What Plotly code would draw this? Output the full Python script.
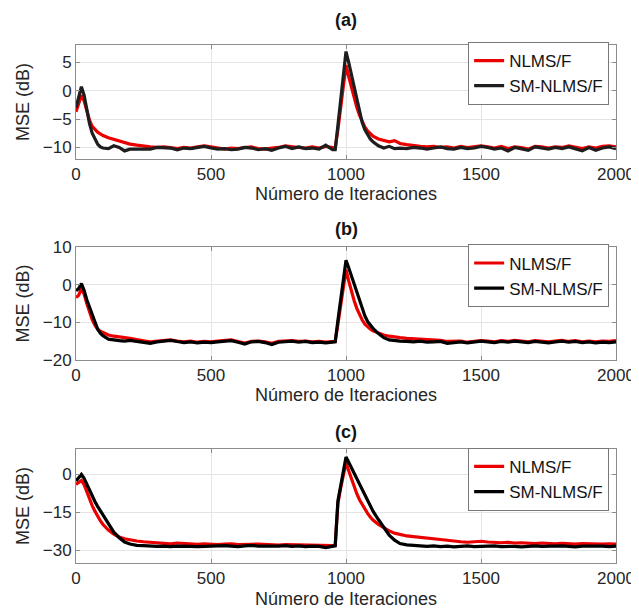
import plotly.graph_objects as go

# ---------------- data ----------------
# iteration sample positions
iters = (list(range(0, 101, 10)) + list(range(120, 201, 20)) + list(range(225, 951, 25))
         + list(range(960, 1101, 10)) + list(range(1120, 1201, 20)) + list(range(1225, 2001, 25)))

nlms_a = [
    -3.7, -2.2, -0.8, -1.8, -3.5, -5.2, -6.3, -6.9, -7.3, -7.6, -7.9,
    -8.3, -8.6, -8.9, -9.2, -9.4,
    -9.6, -9.8, -9.9, -10.0, -9.9, -10.0, -10.2, -10.0, -10.1, -9.9,
    -9.7, -9.9, -10.1, -10.3, -10.1, -10.2, -10.0, -9.9, -10.2, -10.3,
    -10.1, -10.0, -9.7, -9.9, -10.0, -10.1, -9.9, -10.1, -9.8, -10.0,
    -10.1, -6.9, -3.4, 0.5, 4.5, 2.5, 0.6, -1.2, -2.9, -4.3, -5.5, -6.4, -7.1, -7.6, -8.0,
    -8.5, -8.8, -9.0, -8.8, -9.3,
    -9.5, -9.7, -9.8, -9.9, -9.8, -10.0, -9.9, -10.1, -9.8, -10.0,
    -9.9, -9.7, -9.9, -10.1, -9.8, -10.2, -9.9, -10.0, -10.3, -9.8,
    -9.9, -10.1, -9.9, -10.0, -9.7, -10.0, -10.2, -9.9, -10.1, -9.8,
    -9.7, -9.9,
]
sm_a = [
    -3.0, -1.0, 0.7, -0.8, -3.5, -5.8, -7.5, -8.6, -9.4, -9.9, -10.1,
    -10.2, -9.7, -10.0, -10.6, -10.3,
    -10.3, -10.2, -10.3, -10.0, -10.0, -10.1, -10.4, -10.1, -10.2, -10.0,
    -9.8, -10.1, -10.3, -10.2, -10.4, -10.3, -10.0, -10.1, -10.4, -10.2,
    -10.5, -10.1, -9.8, -10.2, -9.9, -10.2, -10.1, -10.3, -9.6, -10.4,
    -10.4, -6.1, -1.8, 2.6, 6.9, 5.0, 2.8, 0.5, -1.6, -3.8, -5.6, -6.9, -7.8, -8.5, -9.0,
    -9.7, -10.1, -9.8, -10.2, -10.1,
    -10.2, -10.0, -10.1, -10.3, -10.1, -9.9, -10.2, -10.3, -10.0, -10.2,
    -10.1, -9.8, -10.0, -10.3, -10.1, -10.6, -10.0, -10.2, -10.5, -9.9,
    -10.1, -10.3, -10.0, -10.2, -9.9, -10.2, -10.6, -10.0, -10.5, -10.1,
    -9.9, -10.2,
]

nlms_b = [
    -3.4, -2.8, -1.0, -2.5, -5.0, -7.3, -9.3, -10.8, -11.8, -12.4, -12.8,
    -13.4, -13.7, -14.0, -14.1, -14.3,
    -14.5, -14.9, -15.2, -15.0, -14.9, -14.7, -15.0, -15.2, -15.0, -15.3,
    -15.1, -15.2, -15.0, -14.8, -14.7, -15.1, -15.5, -15.1, -15.0, -15.2,
    -15.6, -15.1, -14.9, -14.9, -15.1, -15.0, -15.2, -15.1, -15.3, -15.2,
    -15.1, -10.5, -5.8, -0.8, 4.0, 1.0, -1.8, -4.2, -6.3, -8.0, -9.4, -10.5, -11.3, -11.8, -12.3,
    -12.9, -13.4, -13.7, -14.0, -14.1,
    -14.3, -14.4, -14.5, -14.7, -14.6, -14.8, -15.1, -15.0, -15.0, -15.3,
    -15.1, -14.9, -15.0, -15.2, -14.9, -15.1, -14.8, -15.0, -15.2, -14.9,
    -15.0, -15.2, -15.0, -14.8, -15.1, -14.9, -15.2, -15.0, -15.2, -15.0,
    -15.1, -14.9,
]
sm_b = [
    -1.6, -1.0, 0.3, -1.5, -4.0, -6.0, -8.0, -10.0, -11.8, -12.9, -13.6,
    -14.5, -14.8, -14.9, -15.0, -14.8,
    -15.1, -15.3, -15.6, -15.2, -15.0, -14.8, -15.1, -15.4, -15.2, -15.5,
    -15.3, -15.4, -15.2, -15.0, -14.9, -15.3, -15.8, -15.2, -15.1, -15.4,
    -15.9, -15.3, -15.1, -15.0, -15.3, -15.1, -15.4, -15.3, -15.5, -15.4,
    -15.2, -9.5, -4.0, 1.5, 6.5, 4.5, 2.3, 0.0, -2.2, -4.4, -6.5, -8.3, -9.8, -10.8, -11.6,
    -13.0, -14.1, -14.7, -14.9, -15.0,
    -15.1, -15.2, -15.0, -15.3, -15.2, -15.1, -15.6, -15.4, -15.2, -15.5,
    -15.3, -15.0, -15.2, -15.4, -15.1, -15.3, -15.0, -15.2, -15.4, -15.1,
    -15.3, -15.5, -15.2, -15.0, -15.3, -15.1, -15.4, -15.2, -15.5, -15.3,
    -15.4, -15.2,
]

nlms_c = [
    -3.9, -3.0, -2.4, -4.0, -7.0, -9.8, -12.3, -14.5, -16.5, -18.3, -19.8,
    -22.0, -23.6, -24.7, -25.4, -25.9,
    -26.3, -26.6, -26.8, -27.0, -27.2, -27.4, -27.1, -27.3, -27.5, -27.6,
    -27.4, -27.6, -27.7, -27.5, -27.4, -27.7, -27.8, -27.6, -27.5, -27.7,
    -27.8, -27.9, -27.7, -27.8, -27.9, -28.0, -27.9, -28.1, -28.0, -28.1,
    -28.0, -11.5, -5.5, -0.5, 4.7, 1.5, -1.7, -4.8, -7.6, -10.0, -12.0, -13.8, -15.4, -16.8, -18.0,
    -19.8, -21.2, -22.3, -23.2, -23.8,
    -24.3, -24.6, -24.8, -25.1, -25.4, -25.7, -26.0, -26.4, -26.6, -26.8,
    -26.5, -26.4, -26.7, -26.9, -27.0, -26.8, -27.1, -27.0, -27.2, -27.3,
    -27.1, -27.3, -27.4, -27.2, -27.4, -27.5, -27.3, -27.4, -27.6, -27.5,
    -27.4, -27.5,
]
sm_c = [
    -2.6, -1.2, 0.0, -1.5, -4.0, -6.3, -8.5, -10.7, -12.6, -14.4, -16.0,
    -19.2, -22.8, -25.0, -26.7, -27.5,
    -28.0, -28.1, -28.3, -28.4, -28.3, -28.5, -28.3, -28.2, -28.4, -28.5,
    -28.3, -28.4, -28.2, -28.1, -28.3, -28.5, -28.2, -28.0, -28.3, -28.4,
    -28.2, -28.3, -28.1, -28.4, -28.2, -28.5, -28.3, -28.4, -28.9, -28.3,
    -28.2, -10.5, -4.5, 1.2, 6.9, 4.8, 2.6, 0.4, -1.9, -4.1, -6.3, -8.5, -10.6, -12.6, -14.5,
    -17.8, -21.0, -24.0, -26.0, -27.3,
    -27.8, -28.0, -28.3, -28.4, -28.2, -28.5, -28.3, -28.6, -28.4, -28.2,
    -28.5, -28.3, -28.4, -28.2, -28.5, -28.3, -28.4, -28.6, -28.3, -28.2,
    -28.4, -28.3, -28.5, -28.2, -28.4, -28.6, -28.3, -28.2, -28.4, -28.3,
    -28.5, -28.3,
]

panel_titles = ["(a)", "(b)", "(c)"]
series_names = ["NLMS/F", "SM-NLMS/F"]
x_title = "Número de Iteraciones"
y_title = "MSE (dB)"
x_ticks = [0, 500, 1000, 1500, 2000]
y_ticks = [[-10, -5, 0, 5], [-20, -10, 0, 10], [-30, -15, 0]]
y_ranges = [[-12, 8], [-20, 10], [-35, 10]]

# ---------------- layout geometry ----------------
W, H = 639, 609
ML, MR, MT, MB = 68, 21, 37, 50
PH = H - MT - MB
panels_px = [(37.3, 151.7), (240.7, 354.3), (444.3, 559.0)]  # top, bottom in px
title_px = [12, 222, 427]
legend_top_px = [34, 238, 443]

def py(px):
    return (H - MB - px) / PH

FONT = "Liberation Sans, Arial, sans-serif"
RED = "rgb(235,0,0)"
blacks = ["rgb(30,30,30)", "rgb(0,0,0)", "rgb(0,0,0)"]

fig = go.Figure()
data = [(nlms_a, sm_a), (nlms_b, sm_b), (nlms_c, sm_c)]
for i, (r, k) in enumerate(data):
    sfx = "" if i == 0 else str(i + 1)
    leg = "legend" + sfx
    fig.add_trace(go.Scatter(x=iters, y=r, mode="lines", name=series_names[0],
                             line=dict(color=RED, width=3.2), xaxis="x" + sfx, yaxis="y" + sfx,
                             legend=leg))
    fig.add_trace(go.Scatter(x=iters, y=k, mode="lines", name=series_names[1],
                             line=dict(color=blacks[i], width=3.2), xaxis="x" + sfx, yaxis="y" + sfx,
                             legend=leg))

layout = dict(
    width=W, height=H,
    margin=dict(l=ML, r=MR, t=MT, b=MB),
    paper_bgcolor="white", plot_bgcolor="white",
    font=dict(family=FONT, size=17, color="rgb(38,38,38)"),
    annotations=[],
)
axis_common = dict(showline=True, linecolor="rgb(140,140,140)", linewidth=1, mirror="ticks",
                   ticks="inside", ticklen=4, tickcolor="rgb(140,140,140)",
                   showgrid=True, gridcolor="rgb(228,228,228)", gridwidth=1,
                   zeroline=False, tickfont=dict(size=17, family=FONT, color="rgb(38,38,38)"))
for i in range(3):
    sfx = "" if i == 0 else str(i + 1)
    top, bot = panels_px[i]
    layout["xaxis" + sfx] = dict(axis_common, domain=[0, 1], anchor="y" + sfx,
                                 range=[0, 2000], tickvals=x_ticks,
                                 title=dict(text=x_title, font=dict(size=18, family=FONT, color="rgb(38,38,38)"),
                                            standoff=4))
    layout["yaxis" + sfx] = dict(axis_common, domain=[py(bot), py(top)], anchor="x" + sfx,
                                 range=y_ranges[i], tickvals=y_ticks[i],
                                 title=dict(text=y_title, font=dict(size=18, family=FONT, color="rgb(38,38,38)"),
                                            standoff=8))
    layout["legend" + sfx] = dict(x=(611 - ML) / (W - ML - MR), xanchor="right",
                                  y=py(legend_top_px[i]), yanchor="top",
                                  bgcolor="white", bordercolor="rgb(120,120,120)", borderwidth=1,
                                  font=dict(size=17, family=FONT, color="rgb(20,20,20)"),
                                  tracegroupgap=0, itemwidth=30)
    layout["annotations"].append(dict(text="<b>" + panel_titles[i] + "</b>", xref="paper", yref="paper",
                                      x=0.5, y=py(title_px[i]), xanchor="center", yanchor="middle",
                                      showarrow=False, font=dict(size=18, family=FONT, color="rgb(20,20,20)")))

fig.update_layout(**layout)
fig.write_html("out.html")
